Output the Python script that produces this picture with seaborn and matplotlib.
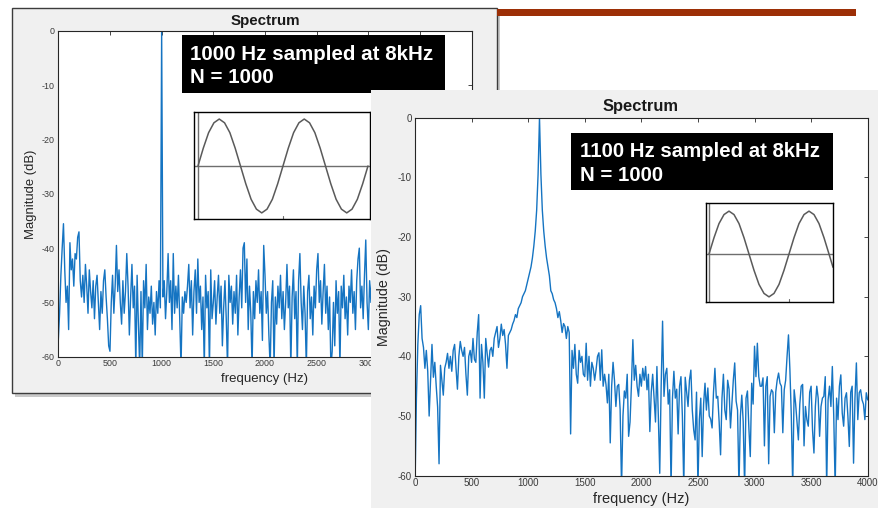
import numpy as np
import matplotlib
matplotlib.use("Agg")
import matplotlib.pyplot as plt
import seaborn as sns
from matplotlib.patches import Rectangle

# ---------------- data ----------------
FREQ_STEP_HZ = 12.5

# Left window: 1000 Hz tone, 0 .. 3100 Hz visible (rest is hidden under the right window)
left_db = [
    -57, -52, -45, -40, -35.5, -44, -50, -47,
    -55, -39, -44, -42, -47, -41, -42, -38,
    -37, -46, -49, -45, -50, -43, -47, -52,
    -44, -48, -51, -46, -53, -47, -45, -50,
    -55, -48, -52, -46, -44, -49, -53, -58,
    -59, -50, -45, -52, -47, -39.5, -48, -44,
    -50, -54, -46, -52, -48, -41, -47, -56,
    -49, -43, -51, -47, -62, -45, -54, -62,
    -48, -62, -46, -51, -43, -55, -49, -52,
    -47, -54, -50, -56, -48, -52, -46, -51,
    0, -49, -46, -53, -48, -41, -50, -46,
    -55, -41, -52, -47, -51, -45, -53, -62,
    -49, -52, -48, -50, -47, -43, -51, -46,
    -56, -48, -44, -52, -42, -50, -47, -55,
    -49, -62, -45, -51, -48, -62, -44, -53,
    -50, -46, -54, -49, -45, -52, -47, -58,
    -51, -46, -53, -62, -45, -50, -47, -54,
    -48, -52, -45, -56, -49, -44, -51, -40,
    -39, -50, -42, -55, -47, -52, -62, -48,
    -53, -46, -50, -44, -52, -48, -57, -39.5,
    -45, -52, -48, -56, -62, -50, -46, -62,
    -49, -54, -47, -51, -45, -53, -48, -55,
    -50, -43, -51, -47, -62, -49, -44, -53,
    -48, -62, -46, -41, -50, -55, -47, -52,
    -62, -48, -45, -53, -49, -56, -47, -51,
    -44, -41, -50, -46, -54, -48, -43, -52,
    -47, -55, -49, -62, -59, -50, -58, -46,
    -52, -48, -62, -47, -51, -45, -53, -49,
    -56, -47, -50, -44, -52, -48, -55, -46,
    -42, -40, -51, -47, -53, -45, -38.5, -50,
    -55, -46, -50, -44, -52, -48, -45, -51,
    -47,
]

# Right window: 1100 Hz tone, 0 .. 4000 Hz
right_db = [
    -62, -47, -38, -33, -31.5, -37, -38.5, -42,
    -39, -42.5, -50, -44, -38, -43.5, -41, -45,
    -48.5, -58, -41.5, -44, -46.5, -42, -41, -39.5,
    -42, -40, -42.5, -39, -38, -42, -45.5, -40,
    -37.5, -39, -40, -38.5, -43, -46.5, -40, -39,
    -41, -37, -40.5, -41, -36, -33, -47, -38,
    -41, -47, -37, -39.5, -41.8, -39, -38.5, -40,
    -37, -36, -35, -38.5, -37, -34.6, -36.5, -35.5,
    -38, -42, -36.5, -36, -35.5, -34.6, -34, -33,
    -33.5, -32, -31.5, -31, -30, -29.5, -29, -28,
    -27, -26, -25, -23.5, -21.5, -19, -15.5, -9.5,
    0, -9.5, -15.5, -19, -21.5, -23.5, -25, -26.5,
    -29, -29.5, -30.5, -31, -32, -33.5, -32.5, -34,
    -36, -34.5, -35, -37, -35, -36, -53, -39,
    -42, -38, -43, -44.5, -39, -41, -40, -43,
    -43.4, -37.8, -44, -40, -45, -41, -42, -44,
    -42.2, -40, -39.4, -44, -38.9, -45, -43, -44.7,
    -47.8, -43, -54.5, -45, -41, -44, -48.4, -45,
    -44.7, -48.9, -62, -50, -45.8, -47, -43, -53.4,
    -51, -44.7, -37.2, -44, -41.5, -45, -46.7, -43,
    -45, -42, -44, -41.7, -45.6, -43, -52.6, -46,
    -43, -47, -51, -41.7, -50, -59.6, -45, -34.1,
    -46.7, -43, -42, -48, -45.6, -62, -47, -42.5,
    -47, -45.5, -53, -45, -43.4, -50, -62, -43.5,
    -46, -48.4, -44, -42.3, -49, -52.3, -54, -46,
    -62, -50.6, -47, -56.8, -48, -44.5, -49, -45.3,
    -50, -50.5, -52, -46, -42, -47, -46.7, -51,
    -56.5, -47, -43, -49, -50.6, -44, -45.5, -52,
    -48, -44, -41.1, -47.5, -49, -62, -50, -46.5,
    -51, -62, -47, -45.8, -52, -56.8, -44.5, -48,
    -38.3, -43.4, -37.8, -43.4, -45, -45, -43.6, -55,
    -45, -43.4, -58, -46.7, -45.6, -46, -52.8, -46,
    -44, -42.8, -44.5, -45, -52.8, -45.6, -44, -40,
    -36.4, -42.2, -50, -62, -45.6, -47.8, -51, -54,
    -48, -45, -44.7, -55, -48.4, -50.6, -51.7, -46,
    -45, -52.3, -56.2, -48.4, -45, -47, -53.4, -48.4,
    -47, -46.7, -43.4, -62, -47.3, -45, -48.4, -41.7,
    -50, -62, -47, -50.6, -45, -43.1, -49.5, -51.7,
    -47, -46.1, -50, -55.1, -46, -45, -57.9, -47,
    -41.1, -50.6, -46.1, -45.6, -47.3, -48, -50.6, -46.1,
    -47.3,
]

# inset waveforms (normalised amplitude samples, 16 samples per period)
left_wave = [0, .38, .71, .92, 1, .92, .71, .38, 0, -.38, -.71, -.92, -1, -.92, -.71, -.38,
             0, .38, .71, .92, 1, .92, .71, .38, 0, -.38, -.71, -.92, -1, -.92, -.71, -.38, 0]
right_wave = [0, .38, .71, .92, 1, .92, .71, .38, 0, -.38, -.71, -.92, -1, -.92, -.71, -.38,
              0, .38, .71, .92, 1, .92, .71, .38, 0, -.31]
right_wave_x = list(range(25)) + [24.8]

x_ticks = [0, 500, 1000, 1500, 2000, 2500, 3000, 3500, 4000]
y_ticks = [-60, -50, -40, -30, -20, -10, 0]

left_caption = ["1000 Hz sampled at 8kHz", "N = 1000"]
right_caption = ["1100 Hz sampled at 8kHz", "N = 1000"]

left_freq = np.arange(len(left_db)) * FREQ_STEP_HZ
right_freq = np.arange(len(right_db)) * FREQ_STEP_HZ

# ---------------- style ----------------
sns.set_style("white")
plt.rcParams["font.family"] = ["Liberation Sans", "DejaVu Sans"]
plt.rcParams["axes.unicode_minus"] = False

W, H = 879, 508
fig = plt.figure(figsize=(W / 100, H / 100), dpi=100)
fig.patch.set_facecolor("white")

BLUE = "#1574c2"
DARK = "#262626"


def px_axes(x0, y0, x1, y1, z):
    return fig.add_axes([x0 / W, 1 - y1 / H, (x1 - x0) / W, (y1 - y0) / H], zorder=z)


def deco(z):
    ax = fig.add_axes([0, 0, 1, 1], zorder=z)
    ax.set_xlim(0, W)
    ax.set_ylim(H, 0)
    ax.axis("off")
    return ax


def style_spec(ax, fs):
    ax.set_xlim(0, 4000)
    ax.set_ylim(-60, 0)
    ax.set_xticks(x_ticks)
    ax.set_yticks(y_ticks)
    ax.tick_params(direction="in", length=3, width=0.6, top=True, right=True,
                   labelsize=fs, colors=DARK, pad=2)
    ax.tick_params(axis="y", pad=2.5)
    for s in ax.spines.values():
        s.set_color(DARK)
        s.set_linewidth(0.8)
    ax.set_xlabel("")
    ax.set_ylabel("")
    ax.set_facecolor("white")
    for lab in ax.get_xticklabels() + ax.get_yticklabels():
        lab.set_color("#3a3a3a")


def style_inset(ax, xlim, ylim, tick_x):
    ax.set_xlim(*xlim)
    ax.set_ylim(*ylim)
    ax.set_xticks([])
    ax.set_yticks([])
    ax.set_facecolor("white")
    for s in ax.spines.values():
        s.set_color("black")
        s.set_linewidth(1.0)
    ax.axhline(0, color="#6e6e6e", lw=1.0, zorder=1)
    ax.axvline(0, color="#6e6e6e", lw=1.0, zorder=1)
    ax.plot([tick_x, tick_x], [ylim[0], ylim[0] + 0.06], color="#6e6e6e", lw=0.8)
    ax.set_xlabel("")
    ax.set_ylabel("")


# ---------- layer 0: left window + slide bar ----------
d0 = deco(0)
d0.add_patch(Rectangle((15, 11), 485, 386, facecolor="#c9c9c9", edgecolor="none"))
d0.add_patch(Rectangle((12.3, 8.3), 485, 385, facecolor="#f0f0f0", edgecolor="#3c3c3c", lw=1.0))
d0.add_patch(Rectangle((497, 9), 359, 7, facecolor="#9c2f06", edgecolor="none"))

# ---------- layer 1: left spectrum ----------
axL = px_axes(58.3, 31, 471.7, 356.7, 1)
sns.lineplot(x=left_freq, y=left_db, ax=axL, color=BLUE, linewidth=1.0)
style_spec(axL, 6.4)

# ---------- layer 2: left annotations ----------
d2 = deco(2)
d2.text(265, 25, "Spectrum", ha="center", va="baseline", fontsize=10.9,
        fontweight="bold", color="#1a1a1a")
d2.text(265, 382, "frequency (Hz)", ha="center", va="baseline", fontsize=9.5, color=DARK)
d2.text(31, 194, "Magnitude (dB)", ha="center", va="center", rotation=90,
        fontsize=9.4, color=DARK)
d2.add_patch(Rectangle((182, 35), 263, 58, facecolor="black", edgecolor="none"))
d2.text(190, 60, left_caption[0], ha="left", va="baseline", fontsize=14.8,
        fontweight="bold", color="white")
d2.text(190, 83.3, left_caption[1], ha="left", va="baseline", fontsize=14.8,
        fontweight="bold", color="white")

insL = px_axes(194, 112, 370, 219, 2.5)
sns.lineplot(x=list(range(len(left_wave))), y=left_wave, ax=insL, color="#5a5a5a", linewidth=1.1)
style_inset(insL, (-0.75, 32.38), (-1.13, 1.15), 16)

# ---------- layer 3: right window ----------
d3 = deco(3)
d3.add_patch(Rectangle((371, 90), 520, 430, facecolor="#f0f0f0", edgecolor="none"))

# ---------- layer 4: right spectrum ----------
axR = px_axes(415, 117.7, 867.7, 475.7, 4)
sns.lineplot(x=right_freq, y=right_db, ax=axR, color=BLUE, linewidth=1.0)
style_spec(axR, 7.0)

# ---------- layer 5: right annotations ----------
d5 = deco(5)
d5.text(641, 110.7, "Spectrum", ha="center", va="baseline", fontsize=11.9,
        fontweight="bold", color="#1a1a1a")
d5.text(641, 502.5, "frequency (Hz)", ha="center", va="baseline", fontsize=10.5, color=DARK)
d5.text(384, 297, "Magnitude (dB)", ha="center", va="center", rotation=90,
        fontsize=10.3, color=DARK)
d5.add_patch(Rectangle((571, 133), 262, 57, facecolor="black", edgecolor="none"))
d5.text(580, 156.7, right_caption[0], ha="left", va="baseline", fontsize=14.7,
        fontweight="bold", color="white")
d5.text(580, 180.7, right_caption[1], ha="left", va="baseline", fontsize=14.7,
        fontweight="bold", color="white")

insR = px_axes(706, 203, 833, 302, 6)
sns.lineplot(x=right_wave_x, y=right_wave, ax=insR, color="#5a5a5a", linewidth=1.1)
style_inset(insR, (-0.6, 24.8), (-1.12, 1.19), 16)

fig.savefig("out.png", dpi=100)
